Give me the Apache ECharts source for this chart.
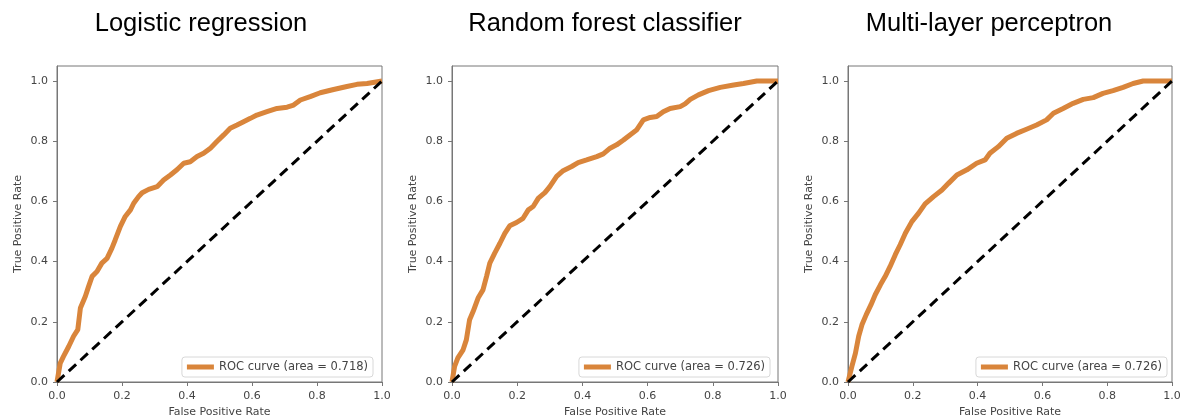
<!DOCTYPE html>
<html>
<head>
<meta charset="utf-8">
<script src="https://cdn.jsdelivr.net/npm/echarts@6/dist/echarts.min.js"></script>
<style>
html,body{margin:0;padding:0;background:#fff;}
#c{width:1181px;height:419px;}
</style>
</head>
<body>
<div id="c"></div>
<script>
// ---- data ----
const titles = ["Logistic regression", "Random forest classifier", "Multi-layer perceptron"];
const legendNames = ["ROC curve (area = 0.718)", "ROC curve (area = 0.726)", "ROC curve (area = 0.726)"];
const tickValues = [0, 0.2, 0.4, 0.6, 0.8, 1.0];
const diagFpr = [0, 1];
const diagTpr = [0, 1];

const lrFpr = [0,0.01,0.02,0.036,0.051,0.064,0.072,0.087,0.097,0.108,0.123,0.138,0.154,0.169,0.179,0.195,0.210,0.226,0.236,0.251,0.262,0.282,0.308,0.328,0.349,0.369,0.390,0.410,0.431,0.451,0.472,0.492,0.513,0.533,0.554,0.574,0.595,0.615,0.646,0.677,0.708,0.728,0.749,0.779,0.810,0.851,0.892,0.923,0.954,1.0];
const lrTpr = [0,0.063,0.085,0.118,0.152,0.174,0.246,0.284,0.317,0.351,0.367,0.395,0.411,0.445,0.472,0.517,0.550,0.572,0.594,0.616,0.629,0.640,0.649,0.671,0.688,0.705,0.727,0.732,0.749,0.760,0.777,0.799,0.821,0.843,0.854,0.865,0.876,0.887,0.898,0.909,0.913,0.920,0.937,0.948,0.961,0.972,0.982,0.989,0.992,1.0];

const rfFpr = [0,0.008,0.018,0.034,0.044,0.054,0.065,0.080,0.095,0.106,0.116,0.131,0.147,0.162,0.177,0.198,0.218,0.234,0.249,0.265,0.285,0.300,0.321,0.341,0.367,0.387,0.413,0.444,0.464,0.485,0.505,0.526,0.546,0.566,0.587,0.608,0.628,0.648,0.669,0.700,0.715,0.731,0.756,0.787,0.823,0.864,0.894,0.935,1.0];
const rfTpr = [0,0.052,0.080,0.107,0.140,0.207,0.235,0.279,0.306,0.351,0.395,0.428,0.461,0.494,0.519,0.530,0.544,0.572,0.583,0.611,0.629,0.649,0.683,0.702,0.716,0.729,0.738,0.749,0.758,0.777,0.788,0.804,0.821,0.837,0.871,0.879,0.882,0.898,0.909,0.915,0.924,0.939,0.954,0.968,0.979,0.987,0.992,1.0,1.0];

const mlpFpr = [0,0.012,0.023,0.033,0.043,0.056,0.071,0.084,0.100,0.115,0.130,0.146,0.161,0.177,0.197,0.218,0.238,0.264,0.290,0.310,0.336,0.367,0.397,0.423,0.438,0.464,0.490,0.520,0.551,0.582,0.613,0.634,0.664,0.695,0.726,0.757,0.787,0.818,0.849,0.880,0.911,1.0];
const mlpTpr = [0,0.052,0.096,0.152,0.190,0.223,0.257,0.290,0.323,0.351,0.384,0.423,0.456,0.494,0.533,0.561,0.592,0.616,0.638,0.660,0.688,0.705,0.727,0.738,0.760,0.782,0.810,0.826,0.840,0.854,0.871,0.893,0.909,0.926,0.939,0.945,0.959,0.968,0.979,0.992,1.0,1.0];

const curves = [[lrFpr, lrTpr], [rfFpr, rfTpr], [mlpFpr, mlpTpr]];

// ---- layout ----
const grids = [
  {left: 57, top: 66, width: 325, height: 316},
  {left: 452, top: 66, width: 326, height: 316},
  {left: 848, top: 66, width: 324, height: 316}
];
const titleCenters = [201, 605, 989];
const legendRights = [808, 411, 14];
const ORANGE = '#d9853b';
const FONT = 'DejaVu Sans';

function zip(xs, ys) { return xs.map((x, i) => [x, ys[i]]); }

const option = {
  animation: false,
  backgroundColor: '#fff',
  title: titles.map((t, i) => ({
    text: t, left: titleCenters[i], top: 11, textAlign: 'center', padding: 0,
    textStyle: {fontFamily: 'Liberation Sans', fontSize: 25.5, fontWeight: 'normal', color: '#000'}
  })),
  legend: legendNames.map((n, i) => ({
    data: [n], right: legendRights[i], top: 357, orient: 'horizontal',
    icon: 'rect', itemWidth: 27, itemHeight: 5, itemGap: 5,
    padding: [4, 5, 4, 5],
    backgroundColor: 'rgba(255,255,255,0.85)', borderColor: '#d8d8d8', borderWidth: 1, borderRadius: 3,
    textStyle: {fontFamily: FONT, fontSize: 11.5, color: '#444', padding: [0, 0, 0, 0]},
    selectedMode: false
  })),
  grid: grids.map(g => Object.assign({show: true, borderColor: '#777', borderWidth: 1, backgroundColor: '#fff',
    containLabel: false, outerBoundsMode: 'none'}, g)),
  xAxis: grids.map((g, i) => ({
    type: 'value', gridIndex: i, min: 0, max: 1, interval: 0.2,
    name: 'False Positive Rate', nameLocation: 'middle', nameGap: 24,
    nameTextStyle: {fontFamily: FONT, fontSize: 11, color: '#444'},
    axisLine: {show: true, onZero: false, lineStyle: {color: '#777', width: 1}},
    axisTick: {show: true, length: 4, lineStyle: {color: '#777'}, customValues: tickValues},
    axisLabel: {fontFamily: FONT, fontSize: 11, color: '#444', margin: 9, customValues: tickValues,
      formatter: v => v.toFixed(1)},
    splitLine: {show: false}
  })),
  yAxis: grids.map((g, i) => ({
    type: 'value', gridIndex: i, min: 0, max: 1.05,
    name: 'True Positive Rate', nameLocation: 'middle', nameGap: 33,
    nameTextStyle: {fontFamily: FONT, fontSize: 11, color: '#444'},
    axisLine: {show: true, onZero: false, lineStyle: {color: '#777', width: 1}},
    axisTick: {show: true, length: 4, lineStyle: {color: '#777'}, customValues: tickValues},
    axisLabel: {fontFamily: FONT, fontSize: 11, color: '#444', margin: 9, customValues: tickValues,
      formatter: v => v.toFixed(1)},
    splitLine: {show: false}
  })),
  series: []
};

curves.forEach((c, i) => {
  option.series.push({
    type: 'line', name: legendNames[i], xAxisIndex: i, yAxisIndex: i,
    data: zip(c[0], c[1]), showSymbol: false, symbol: 'none',
    lineStyle: {color: ORANGE, width: 5}, itemStyle: {color: ORANGE},
    clip: false, z: 2
  });
  option.series.push({
    type: 'line', name: 'diag' + i, xAxisIndex: i, yAxisIndex: i,
    data: zip(diagFpr, diagTpr), showSymbol: false, symbol: 'none',
    lineStyle: {color: '#000', width: 3, type: [10, 6]},
    clip: false, z: 3
  });
});

const chart = echarts.init(document.getElementById('c'), null, {renderer: 'canvas'});
chart.setOption(option);
</script>
</body>
</html>
